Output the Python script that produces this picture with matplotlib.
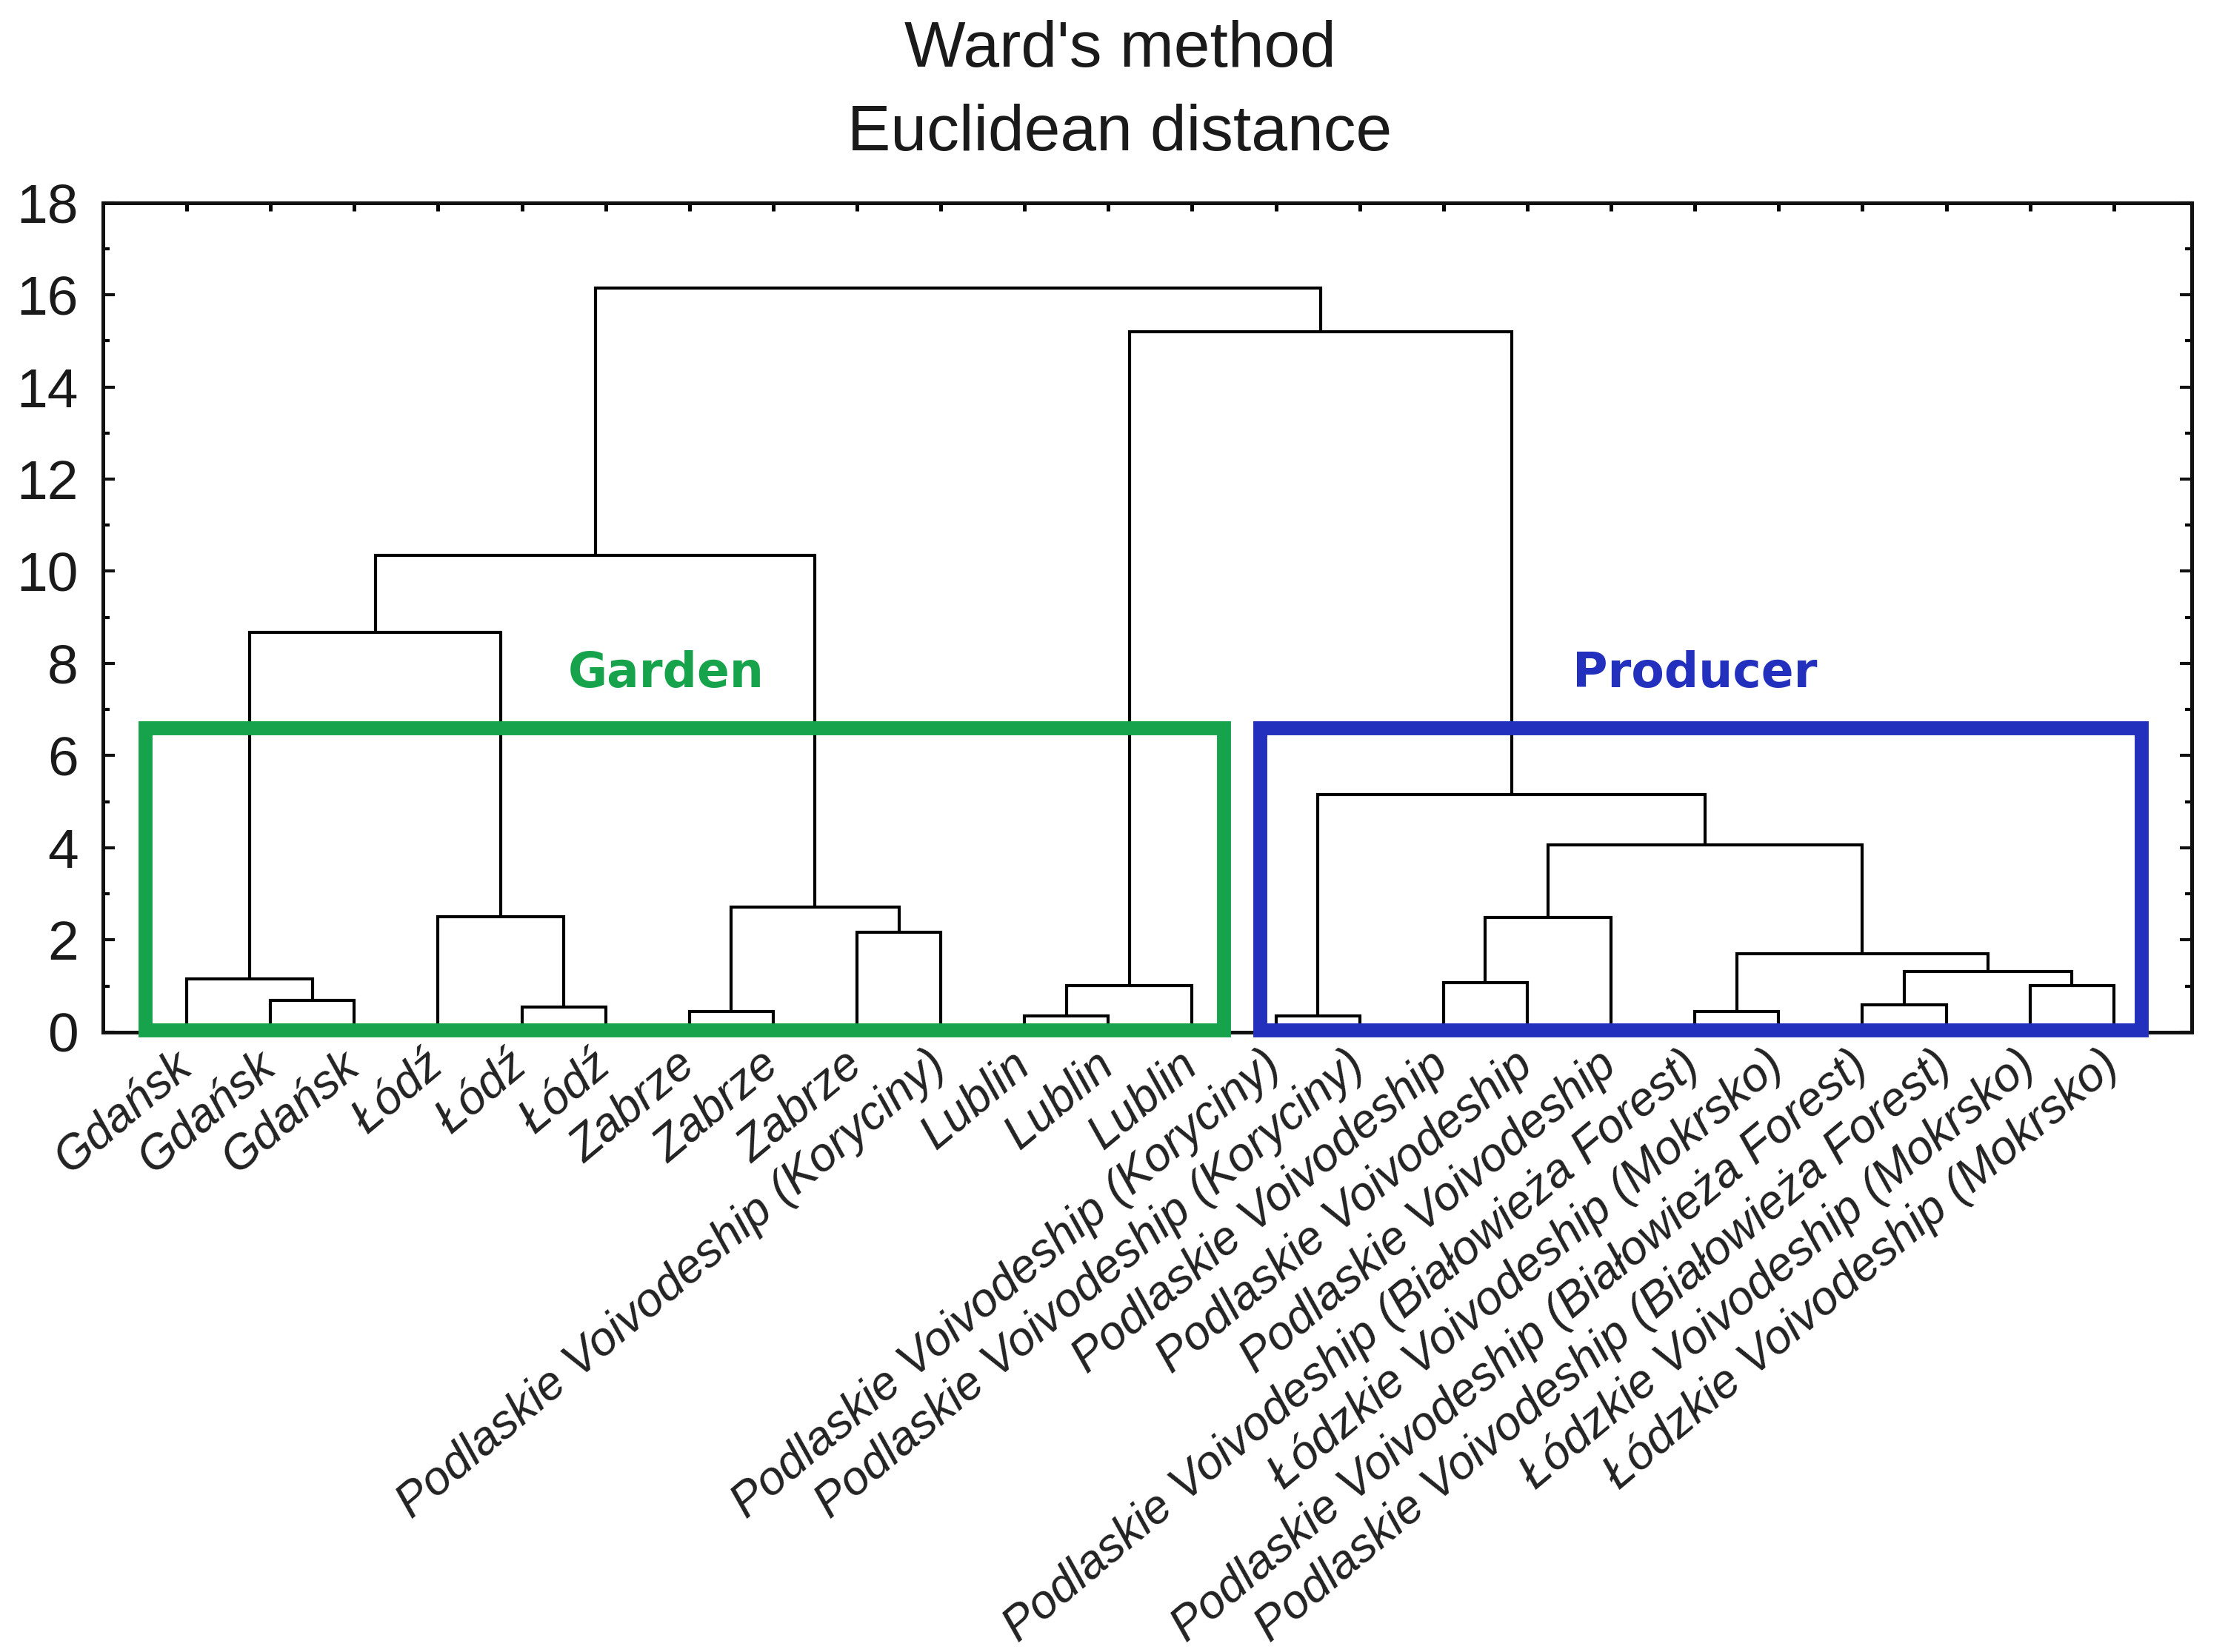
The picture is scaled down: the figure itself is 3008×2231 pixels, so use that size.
import matplotlib
matplotlib.use('Agg')
import matplotlib.pyplot as plt
from matplotlib.patches import Rectangle
from matplotlib.transforms import ScaledTranslation

# ---------------- data ----------------
leaf_labels = [
    "Gdańsk", "Gdańsk", "Gdańsk",
    "Łódź", "Łódź", "Łódź",
    "Zabrze", "Zabrze", "Zabrze",
    "Podlaskie Voivodeship (Koryciny)",
    "Lublin", "Lublin", "Lublin",
    "Podlaskie Voivodeship (Koryciny)", "Podlaskie Voivodeship (Koryciny)",
    "Podlaskie Voivodeship", "Podlaskie Voivodeship", "Podlaskie Voivodeship",
    "Podlaskie Voivodeship (Białowieża Forest)",
    "Łódzkie Voivodeship (Mokrsko)",
    "Podlaskie Voivodeship (Białowieża Forest)",
    "Podlaskie Voivodeship (Białowieża Forest)",
    "Łódzkie Voivodeship (Mokrsko)",
    "Łódzkie Voivodeship (Mokrsko)",
]

# linkage: node index = 24 + position in these lists
merge_left   = [13, 10, 6, 18, 4, 20, 1, 22, 25, 15, 0, 29, 27, 8, 33, 3, 26, 38, 24, 34, 43, 32, 44]
merge_right  = [14, 11, 7, 19, 5, 21, 2, 23, 12, 16, 30, 31, 35, 9, 17, 28, 37, 36, 41, 39, 40, 42, 45]
merge_height = [0.35, 0.35, 0.45, 0.45, 0.54, 0.60, 0.69, 1.01, 1.01, 1.08, 1.15, 1.31, 1.70,
                2.17, 2.49, 2.50, 2.72, 4.06, 5.15, 8.67, 10.35, 15.19, 16.14]

group_names = ["Garden", "Producer"]

title_lines = ["Ward's method", "Euclidean distance"]
y_ticks = list(range(0, 19, 2))

# ---------------- style / layout ----------------
W, H, DPI = 3008, 2231, 200
group_colors = ["#17a34b", "#2230bd"]
box_left = [0.50, 13.805]
box_right = [13.376, 24.33]
box_bottom, box_top = 0.05, 6.60
group_text_x = [6.72, 19.0]
group_text_y = 7.48

fig = plt.figure(figsize=(W / DPI, H / DPI), dpi=DPI)
ax = fig.add_axes([0.0462, 0.3752, 0.9837 - 0.0462, 0.8774 - 0.3752])

n = len(leaf_labels)
xpos = {i: i + 1 for i in range(n)}
ypos = {i: 0.0 for i in range(n)}
for k, (a, b, h) in enumerate(zip(merge_left, merge_right, merge_height)):
    node = n + k
    xa, xb = xpos[a], xpos[b]
    ax.plot([xa, xa, xb, xb], [ypos[a], h, h, ypos[b]], color="black",
            lw=1.5, solid_joinstyle="miter", solid_capstyle="butt", zorder=2)
    xpos[node] = (xa + xb) / 2
    ypos[node] = h

ax.set_xlim(0, 24.93)
ax.set_ylim(0, 18)

for sp in ax.spines.values():
    sp.set_linewidth(1.8)
    sp.set_color("#111111")

ax.set_yticks(y_ticks)
ax.set_yticks(range(1, 18, 2), minor=True)
ax.set_yticklabels([str(v) for v in y_ticks], fontsize=27, family="Liberation Sans", color="#1a1a1a")
ax.tick_params(axis="y", which="major", direction="in", length=5.7, width=1.5,
               left=True, right=True, pad=12, colors="#111111")
ax.tick_params(axis="y", which="minor", direction="in", length=3.2, width=1.5,
               left=True, right=True)
for lab in ax.get_yticklabels():
    lab.set_color("#1a1a1a")

ax.set_xticks([i + 1 for i in range(n)])
ax.set_xticklabels([])
ax.tick_params(axis="x", which="major", direction="in", length=3.8, width=1.8,
               top=True, bottom=False, labelbottom=False)

# leaf labels
off = ScaledTranslation(3.6 / 72, -18 / 72, fig.dpi_scale_trans)
for i, lab in enumerate(leaf_labels):
    ax.text(i + 1, 0, lab, transform=ax.get_xaxis_transform() + off,
            rotation=40, rotation_mode="anchor", ha="right", va="baseline",
            fontsize=23, style="italic", family="Liberation Sans", color="#222222",
            clip_on=False)

# group boxes
for name, c, x0, x1, tx in zip(group_names, group_colors, box_left, box_right, group_text_x):
    ax.add_patch(Rectangle((x0, box_bottom), x1 - x0, box_top - box_bottom, fill=False,
                           edgecolor=c, lw=6.8, joinstyle="miter", clip_on=False, zorder=3))
    ax.text(tx, group_text_y, name, color=c, fontsize=23.3, fontweight="bold",
            family="DejaVu Sans", ha="center", va="baseline", zorder=4)

# title
fig.text(0.5027, 1 - 90 / H, title_lines[0], ha="center", va="baseline",
         fontsize=31.5, family="Liberation Sans", color="#1a1a1a")
fig.text(0.5027, 1 - 203 / H, title_lines[1], ha="center", va="baseline",
         fontsize=31.5, family="Liberation Sans", color="#1a1a1a")

fig.savefig("out.png", dpi=DPI, facecolor="white")
